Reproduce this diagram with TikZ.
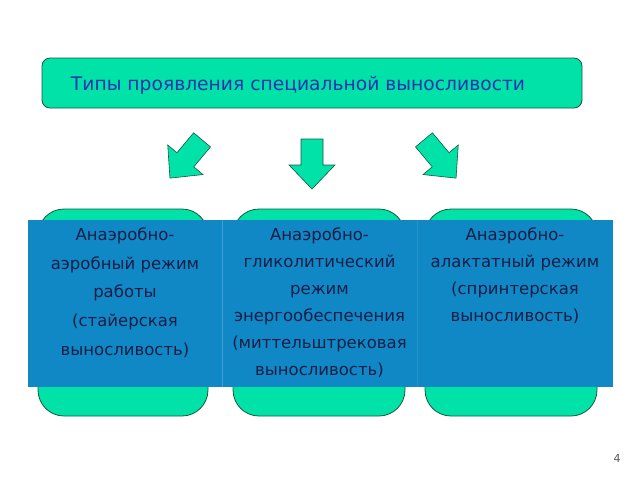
\documentclass[tikz,border=0pt]{standalone}
\usepackage{fontspec}
\setmainfont{DejaVu Sans}
\definecolor{tgreen}{RGB}{0,226,168}
\definecolor{tedge}{RGB}{20,90,60}
\definecolor{tblue}{RGB}{16,136,198}
\definecolor{tdiv}{RGB}{60,160,215}
\definecolor{ttitle}{RGB}{32,50,176}
\definecolor{ttext}{RGB}{22,30,70}
\tikzset{
  greenbox/.style={draw=tedge, line width=0.8pt, fill=tgreen},
  bigarrow/.style={draw=tedge, line width=0.6pt, fill=tgreen, line join=miter},
  coltext/.style={align=center, text=ttext, font=\fontsize{16.5}{27}\selectfont, inner sep=0pt},
}
\newcommand{\arrowshape}{(-11,-25) -- (11,-25) -- (11,1) -- (23,1) -- (0,25) -- (-23,1) -- (-11,1) -- cycle}
\begin{document}
\begin{tikzpicture}[x=1pt,y=-1pt]
\useasboundingbox (0,0) rectangle (640,480);
% title
\node[greenbox, rounded corners=8pt, minimum width=540pt, minimum height=50pt, inner sep=0pt] (title) at (312,83) {};
\node[text=ttitle, font=\fontsize{18.7}{22}\selectfont, inner sep=0pt] (titletext) at (298,85) {Типы проявления специальной выносливости};
% arrows
\begin{scope}[shift={(186,159)}, rotate=-40]
  \path[bigarrow] \arrowshape;
\end{scope}
\begin{scope}[shift={(312,164)}]
  \path[bigarrow] \arrowshape;
\end{scope}
\begin{scope}[shift={(440,159)}, rotate=40]
  \path[bigarrow] \arrowshape;
\end{scope}
% green rounded boxes behind
\node[greenbox, rounded corners=26pt, minimum width=170pt, minimum height=207pt, inner sep=0pt] (g1) at (123,312.5) {};
\node[greenbox, rounded corners=26pt, minimum width=172pt, minimum height=207pt, inner sep=0pt] (g2) at (319,312.5) {};
\node[greenbox, rounded corners=26pt, minimum width=172pt, minimum height=207pt, inner sep=0pt] (g3) at (511,312.5) {};
% blue band
\node[fill=tblue, minimum width=585pt, minimum height=167pt, inner sep=0pt] (band) at (320.5,303.5) {};
\draw[tdiv, line width=0.4pt] (band.north west) ++(194.5,0) coordinate (d1t) -- (d1t |- band.south) coordinate (d1b);
\draw[tdiv!40!tblue, line width=0.4pt] (band.north west) ++(389.5,0) coordinate (d2t) -- (d2t |- band.south) coordinate (d2b);
% texts
\node[coltext, font=\fontsize{16.5}{28.75}\selectfont] (t1) at (125,292.5) {Анаэробно-\\аэробный режим\\работы\\(стайерская\\выносливость)};
\node[coltext] (t2) at (319.5,302.5) {Анаэробно-\\гликолитический\\режим\\энергообеспечения\\(миттельштрековая\\выносливость)};
\node[coltext] (t3) at (515,276) {Анаэробно-\\алактатный режим\\(спринтерская\\выносливость)};
% page number
\node[text=black!65, font=\fontsize{11}{13}\selectfont, inner sep=0pt] (pnum) at (617,458) {4};
\end{tikzpicture}
\end{document}
